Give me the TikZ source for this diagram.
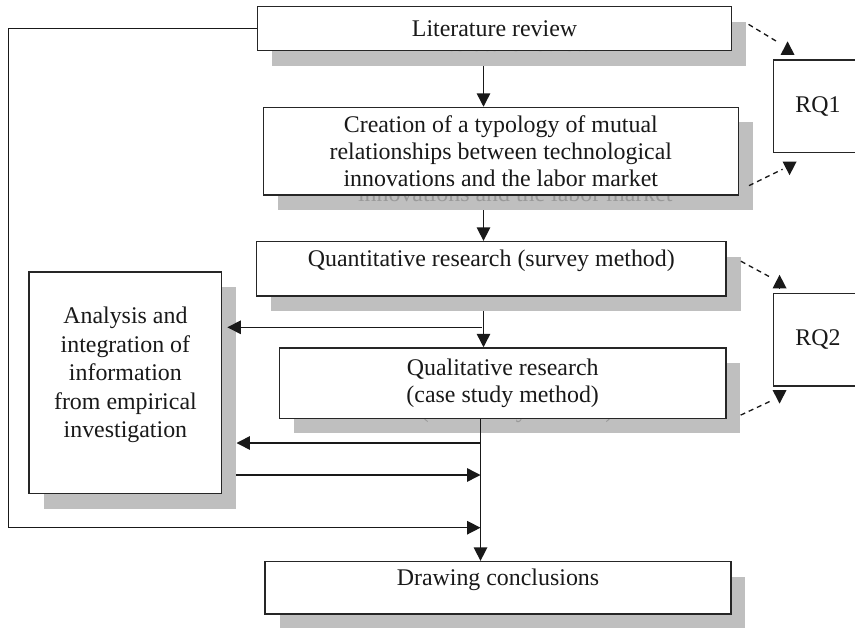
\documentclass[tikz,border=0pt]{standalone}
\usepackage{fontspec}
\setmainfont{Liberation Serif}
\usepackage{tikz}
\usetikzlibrary{positioning, arrows.meta, calc}

\begin{document}
\begin{tikzpicture}[
        x=0.02cm, y=-0.02cm,
        flowbox/.style={draw=black!85, line width=0.8pt, fill=white, text=black!90, align=center, inner sep=2pt, font=\fontsize{13.6}{15.4}\selectfont},
        boxshadow/.style={fill=black!25, text=black!40, align=center, inner sep=2pt, font=\fontsize{13.6}{15.4}\selectfont},
        arrow/.style={-{Triangle[length=0.27cm, width=0.27cm]}, line width=0.85pt, color=black!90},
        dashline/.style={dash pattern=on 0.1cm off 0.08cm, line width=0.75pt, color=black!90}
    ]
    \path[use as bounding box, fill=white] (0,0) rectangle (855,628);
    \clip (0,0) rectangle (855,628);

    % Shadows behind the boxes
    \node[boxshadow, minimum width=9.49cm, minimum height=0.88cm] (lit-sh) at (509,43.7) {Literature review};
    \node[boxshadow, minimum width=9.5cm, minimum height=1.75cm] (crea-sh) at (515.3,166.2) {Creation of a typology of mutual\\relationships between technological\\innovations and the labor market};
    \node[boxshadow, minimum width=9.39cm, minimum height=1.09cm, text depth=12pt] (quant-sh) at (505.8,283.8) {Quantitative research (survey method)};
    \node[boxshadow, minimum width=8.93cm, minimum height=1.41cm] (qual-sh) at (517.2,398.2) {Qualitative research\\(case study method)};
    \node[boxshadow, minimum width=3.85cm, minimum height=4.43cm, text depth=12pt, font=\fontsize{13.6}{16.2}\selectfont] (anal-sh) at (139.9,397.8) {Analysis and\\integration of\\information\\from empirical\\investigation};
    \node[boxshadow, minimum width=9.32cm, minimum height=1.05cm, text depth=12pt] (concl-sh) at (512.5,602.8) {Drawing conclusions};

    % Boxes
    \node[flowbox, minimum width=9.49cm, minimum height=0.88cm] (lit) at (494.5,28.7) {Literature review};
    \node[flowbox, minimum width=9.5cm, minimum height=1.75cm] (crea) at (500.8,151.2) {Creation of a typology of mutual\\relationships between technological\\innovations and the labor market};
    \node[flowbox, minimum width=9.39cm, minimum height=1.09cm, text depth=12pt] (quant) at (491.3,268.8) {Quantitative research (survey method)};
    \node[flowbox, minimum width=8.93cm, minimum height=1.41cm] (qual) at (502.7,383.2) {Qualitative research\\(case study method)};
    \node[flowbox, minimum width=3.85cm, minimum height=4.43cm, text depth=12pt, font=\fontsize{13.6}{16.2}\selectfont] (anal) at (125.4,382.8) {Analysis and\\integration of\\information\\from empirical\\investigation};
    \node[flowbox, minimum width=9.32cm, minimum height=1.05cm, text depth=12pt] (concl) at (498,587.8) {Drawing conclusions};
    \node[flowbox, minimum width=1.79cm, minimum height=1.85cm] (rq1) at (818,106.3) {RQ1};
    \node[flowbox, minimum width=1.79cm, minimum height=1.85cm] (rq2) at (818,339.7) {RQ2};

    % Junction points
    \coordinate (col1) at (483.5,0);
    \coordinate (col2) at (480.5,0);
    \coordinate (split1) at (482,327.3);
    \coordinate (split2) at (480.5,443);
    \coordinate (merge1) at (480.5,475);
    \coordinate (merge2) at (480.5,527.7);
    \coordinate (loop) at (8.3,527.7);

    % Main flow
    \draw[arrow] (lit-sh.south -| col1) -- (crea.north -| col1);
    \draw[arrow] (crea-sh.south -| col1) -- (quant.north -| col1);
    \draw[arrow] (quant-sh.south -| col1) -- (qual.north -| col1);
    \draw[arrow] (qual.south -| col2) -- (concl.north -| col2);

    % Links with the analysis box
    \draw[arrow] (split1) -- ($(anal.east |- split1)+(5,0)$);
    \draw[arrow] (split2) -- (anal-sh.east |- split2);
    \draw[arrow] (anal-sh.east |- merge1) -- (merge1);
    \draw[arrow] (lit.west) -| (loop) -- (merge2);

    % Dashed links to the research questions
    \draw[dashline] ($(lit-sh.north east)+(2,3)$) -- ($(rq1.north west)+(4,-18)$);
    \draw[arrow] ($(rq1.north west)+(15,-5)$) -- ++(0,-13);
    \draw[dashline] ($(crea.south east)+(10,-10)$) -- ($(rq1.south west)+(10,16)$);
    \draw[arrow] ($(rq1.south west)+(17,9)$) -- ++(0,13);
    \draw[dashline] ($(quant-sh.north east)+(0,5)$) -- ($(rq2.north west)+(-3,-16)$);
    \draw[arrow] ($(rq2.north west)+(7,-5)$) -- ++(0,-13);
    \draw[dashline] ($(qual.south east)+(14,-4)$) -- ($(rq2.south west)+(-1,14)$);
    \draw[arrow] ($(rq2.south west)+(7,4)$) -- ++(0,13);
\end{tikzpicture}
\end{document}
